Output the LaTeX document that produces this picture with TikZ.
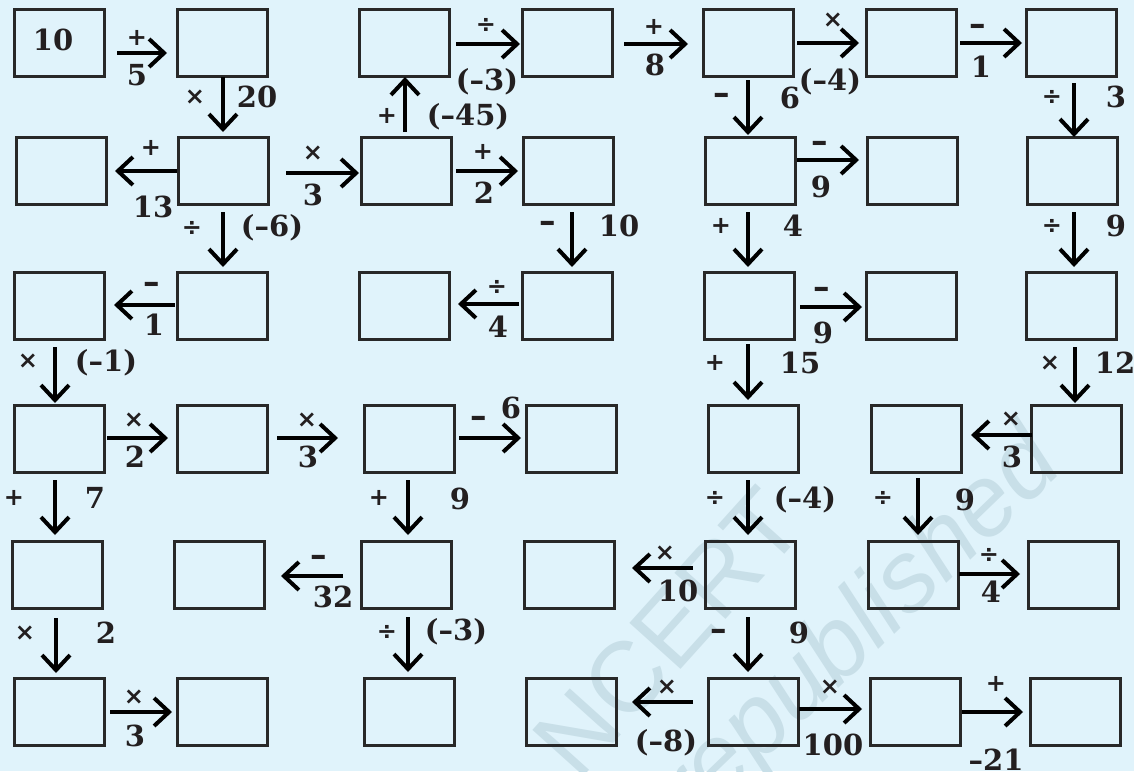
\documentclass[tikz,border=0pt]{standalone}
\usepackage{fontspec}
\setmainfont{DejaVu Serif}
\newfontfamily\opfnt{DejaVu Sans}
\newfontfamily\wmfnt{Liberation Sans}
\usetikzlibrary{arrows.meta,calc}
\definecolor{bg}{RGB}{224,243,251}
\definecolor{boxc}{RGB}{40,40,40}
\definecolor{wm}{RGB}{200,223,232}
\definecolor{txt}{RGB}{35,31,32}
\tikzset{
  box/.style={draw=boxc, line width=3pt, minimum width=90pt, minimum height=67pt, inner sep=0pt, outer sep=0pt},
  conn/.style={line width=4pt, -{Straight Barb[length=15pt,width=28pt]}},
  num/.style={font=\fontsize{29}{31}\selectfont\bfseries, text=txt, inner sep=0pt},
  op/.style={font=\opfnt\fontsize{24}{26}\selectfont\bfseries, text=txt, inner sep=0pt},
  opm/.style={font=\opfnt\fontsize{33}{35}\selectfont\bfseries, text=txt, inner sep=0pt},
  wmark/.style={text=wm, inner sep=0pt, font=\wmfnt\fontsize{100}{100}\selectfont},
  wmarkit/.style={text=wm, inner sep=0pt, font=\wmfnt\itshape\fontsize{100}{100}\selectfont}
}
\begin{document}
\begin{tikzpicture}[x=1pt,y=-1pt]
\fill[bg] (0,0) rectangle (1134,771);
\useasboundingbox (0,0) rectangle (1134,771);
% watermark
\begin{scope}
\clip (0,0) rectangle (1134,771);
\node[wmark, rotate=48] (wm1) at (668,632) {NCERT};
\node[wmarkit, rotate=44] (wm2) at (862,630) {republished};
\end{scope}
% boxes
\node[box] (r1c1) at (59,42.5) {};
\node[box] (r1c2) at (222,42.5) {};
\node[box] (r1c3) at (404.5,42.5) {};
\node[box] (r1c4) at (567.5,42.5) {};
\node[box] (r1c5) at (748.5,42.5) {};
\node[box] (r1c6) at (911.5,42.5) {};
\node[box] (r1c7) at (1071.5,42.5) {};
\node[box] (r2c1) at (61,171) {};
\node[box] (r2c2) at (223,171) {};
\node[box] (r2c3) at (406,171) {};
\node[box] (r2c4) at (568.5,171) {};
\node[box] (r2c5) at (750,171) {};
\node[box] (r2c6) at (912.5,171) {};
\node[box] (r2c7) at (1072.5,171) {};
\node[box] (r3c1) at (59,305.5) {};
\node[box] (r3c2) at (222,305.5) {};
\node[box] (r3c3) at (404.5,305.5) {};
\node[box] (r3c4) at (567.5,305.5) {};
\node[box] (r3c5) at (749,305.5) {};
\node[box] (r3c6) at (911.5,305.5) {};
\node[box] (r3c7) at (1071.5,305.5) {};
\node[box] (r4c1) at (59,438.5) {};
\node[box] (r4c2) at (222,438.5) {};
\node[box] (r4c3) at (409,438.5) {};
\node[box] (r4c4) at (571.5,438.5) {};
\node[box] (r4c5) at (753,438.5) {};
\node[box] (r4c6) at (916,438.5) {};
\node[box] (r4c7) at (1076,438.5) {};
\node[box] (r5c1) at (57,574.5) {};
\node[box] (r5c2) at (219.5,574.5) {};
\node[box] (r5c3) at (406,574.5) {};
\node[box] (r5c4) at (569,574.5) {};
\node[box] (r5c5) at (750.5,574.5) {};
\node[box] (r5c6) at (913,574.5) {};
\node[box] (r5c7) at (1073,574.5) {};
\node[box] (r6c1) at (59,712) {};
\node[box] (r6c2) at (222,712) {};
\node[box] (r6c3) at (409,712) {};
\node[box] (r6c4) at (571.5,712) {};
\node[box] (r6c5) at (753,712) {};
\node[box] (r6c6) at (915.5,712) {};
\node[box] (r6c7) at (1075.5,712) {};
\node[num] (t10) at (53,40) {10};
% connectors
\draw[conn] ($(r1c1)+(58,10.5)$) -- ($(r1c2)+(-55,10.5)$);
\draw[conn] ($(r1c3)+(51.5,1.5)$) -- ($(r1c4)+(-47.5,1.5)$);
\draw[conn] ($(r1c4)+(56.5,1.5)$) -- ($(r1c5)+(-60.5,1.5)$);
\draw[conn] ($(r1c5)+(48.5,0.5)$) -- ($(r1c6)+(-52.5,0.5)$);
\draw[conn] ($(r1c6)+(48.5,0.5)$) -- ($(r1c7)+(-49.5,0.5)$);
\draw[conn] ($(r1c2)+(1,34.5)$) -- ($(r2c2)+(0,-39)$);
\draw[conn] ($(r2c3)+(-1,-39)$) -- ($(r1c3)+(0.5,34.5)$);
\draw[conn] ($(r1c5)+(-0.5,37.5)$) -- ($(r2c5)+(-2,-36)$);
\draw[conn] ($(r1c7)+(2.5,40.5)$) -- ($(r2c7)+(1.5,-34)$);
\draw[conn] ($(r2c2)+(-46,0)$) -- ($(r2c1)+(54,0)$);
\draw[conn] ($(r2c2)+(63,2)$) -- ($(r2c3)+(-47,2)$);
\draw[conn] ($(r2c3)+(50,0)$) -- ($(r2c4)+(-50.5,0)$);
\draw[conn] ($(r2c5)+(47,-11)$) -- ($(r2c6)+(-53.5,-11)$);
\draw[conn] ($(r2c2)+(0,41)$) -- ($(r3c2)+(1,-38.5)$);
\draw[conn] ($(r2c4)+(3.5,41)$) -- ($(r3c4)+(4.5,-38.5)$);
\draw[conn] ($(r2c5)+(-2,41)$) -- ($(r3c5)+(-1,-38.5)$);
\draw[conn] ($(r2c7)+(1.5,41)$) -- ($(r3c7)+(2.5,-38.5)$);
\draw[conn] ($(r3c2)+(-47,-0.5)$) -- ($(r3c1)+(55,-0.5)$);
\draw[conn] ($(r3c4)+(-48.5,-1.5)$) -- ($(r3c3)+(53.5,-1.5)$);
\draw[conn] ($(r3c5)+(51,1.5)$) -- ($(r3c6)+(-49.5,1.5)$);
\draw[conn] ($(r3c1)+(-4,41.5)$) -- ($(r4c1)+(-4,-35.5)$);
\draw[conn] ($(r3c5)+(-1,38.5)$) -- ($(r4c5)+(-5,-38.5)$);
\draw[conn] ($(r3c7)+(3.5,41.5)$) -- ($(r4c7)+(-1,-35.5)$);
\draw[conn] ($(r4c1)+(48,-0.5)$) -- ($(r4c2)+(-54,-0.5)$);
\draw[conn] ($(r4c2)+(55,-0.5)$) -- ($(r4c3)+(-71,-0.5)$);
\draw[conn] ($(r4c3)+(50,-0.5)$) -- ($(r4c4)+(-50.5,-0.5)$);
\draw[conn] ($(r4c7)+(-44,-3.5)$) -- ($(r4c6)+(55,-3.5)$);
\draw[conn] ($(r4c1)+(-4,41.5)$) -- ($(r5c1)+(-2,-39.5)$);
\draw[conn] ($(r4c3)+(-1,41.5)$) -- ($(r5c3)+(2,-39.5)$);
\draw[conn] ($(r4c5)+(-5,41.5)$) -- ($(r5c5)+(-2.5,-39.5)$);
\draw[conn] ($(r4c6)+(2,39.5)$) -- ($(r5c6)+(5,-39.5)$);
\draw[conn] ($(r5c3)+(-63,1.5)$) -- ($(r5c2)+(61.5,1.5)$);
\draw[conn] ($(r5c5)+(-57.5,-6.5)$) -- ($(r5c4)+(63,-6.5)$);
\draw[conn] ($(r5c6)+(46,-0.5)$) -- ($(r5c7)+(-53,-0.5)$);
\draw[conn] ($(r5c1)+(-1,43.5)$) -- ($(r6c1)+(-3,-39)$);
\draw[conn] ($(r5c3)+(2,42.5)$) -- ($(r6c3)+(-1,-40)$);
\draw[conn] ($(r5c5)+(-2.5,42.5)$) -- ($(r6c5)+(-5,-40)$);
\draw[conn] ($(r6c1)+(51,0)$) -- ($(r6c2)+(-50,0)$);
\draw[conn] ($(r6c5)+(-60,-10)$) -- ($(r6c4)+(60.5,-10)$);
\draw[conn] ($(r6c5)+(46,-3)$) -- ($(r6c6)+(-53.5,-3)$);
\draw[conn] ($(r6c6)+(46.5,0)$) -- ($(r6c7)+(-52.5,0)$);
% labels
\node[op] (o1) at (137,38) {+};      \node[num] (n1) at (137,75) {5};
\node[op] (o2) at (486,25) {÷};      \node[num] (n2) at (487,82) {(–3)};
\node[op] (o3) at (654,27) {+};      \node[num] (n3) at (655,65) {8};
\node[op] (o4) at (833,20) {×};      \node[num] (n4) at (830,82) {(–4)};
\node[opm] (o5) at (978,30) {–};     \node[num] (n5) at (981,67) {1};
\node[op] (o6) at (195,97) {×};      \node[num] (n6) at (257,97) {20};
\node[op] (o7) at (387,116) {+};     \node[num] (n7) at (468,117) {(–45)};
\node[opm] (o8) at (722,99) {–};     \node[num] (n8) at (790,98) {6};
\node[op] (o9) at (1052,97) {÷};     \node[num] (n9) at (1116,97) {3};
\node[op] (o10) at (151,148) {+};    \node[num] (n10) at (153,207) {13};
\node[op] (o11) at (313,153) {×};    \node[num] (n11) at (313,195) {3};
\node[op] (o12) at (483,152) {+};    \node[num] (n12) at (484,193) {2};
\node[opm] (o13) at (820,147) {–};   \node[num] (n13) at (821,187) {9};
\node[op] (o14) at (192,228) {÷};    \node[num] (n14) at (272,228) {(–6)};
\node[opm] (o15) at (548,227) {–};   \node[num] (n15) at (619,226) {10};
\node[op] (o16) at (721,226) {+};    \node[num] (n16) at (793,226) {4};
\node[op] (o17) at (1052,226) {÷};   \node[num] (n17) at (1116,226) {9};
\node[opm] (o18) at (152,288) {–};   \node[num] (n18) at (154,325) {1};
\node[op] (o19) at (497,287) {÷};    \node[num] (n19) at (498,327) {4};
\node[opm] (o20) at (822,293) {–};   \node[num] (n20) at (823,333) {9};
\node[op] (o21) at (28,361) {×};     \node[num] (n21) at (106,363) {(–1)};
\node[op] (o22) at (715,363) {+};    \node[num] (n22) at (800,363) {15};
\node[op] (o23) at (1050,363) {×};   \node[num] (n23) at (1115,363) {12};
\node[op] (o24) at (134,420) {×};    \node[num] (n24) at (135,457) {2};
\node[op] (o25) at (307,420) {×};    \node[num] (n25) at (308,457) {3};
\node[opm] (o26) at (479,422) {–};   \node[num] (n26) at (511,408) {6};
\node[op] (o27) at (1011,419) {×};   \node[num] (n27) at (1012,457) {3};
\node[op] (o28) at (14,498) {+};     \node[num] (n28) at (95,498) {7};
\node[op] (o29) at (379,498) {+};    \node[num] (n29) at (460,499) {9};
\node[op] (o30) at (715,498) {÷};    \node[num] (n30) at (805,500) {(–4)};
\node[op] (o31) at (883,498) {÷};    \node[num] (n31) at (965,500) {9};
\node[opm] (o32) at (319,561) {–};   \node[num] (n32) at (333,597) {32};
\node[op] (o33) at (665,553) {×};    \node[num] (n33) at (678,591) {10};
\node[op] (o34) at (989,555) {÷};    \node[num] (n34) at (991,592) {4};
\node[op] (o35) at (25,633) {×};     \node[num] (n35) at (106,633) {2};
\node[op] (o36) at (387,632) {÷};    \node[num] (n36) at (456,632) {(–3)};
\node[opm] (o37) at (719,635) {–};   \node[num] (n37) at (799,633) {9};
\node[op] (o38) at (134,697) {×};    \node[num] (n38) at (135,736) {3};
\node[op] (o39) at (667,687) {×};    \node[num] (n39) at (666,743) {(–8)};
\node[op] (o40) at (830,687) {×};    \node[num] (n40) at (833,745) {100};
\node[op] (o41) at (996,684) {+};    \node[num] (n41) at (996,760) {–21};
\end{tikzpicture}
\end{document}
